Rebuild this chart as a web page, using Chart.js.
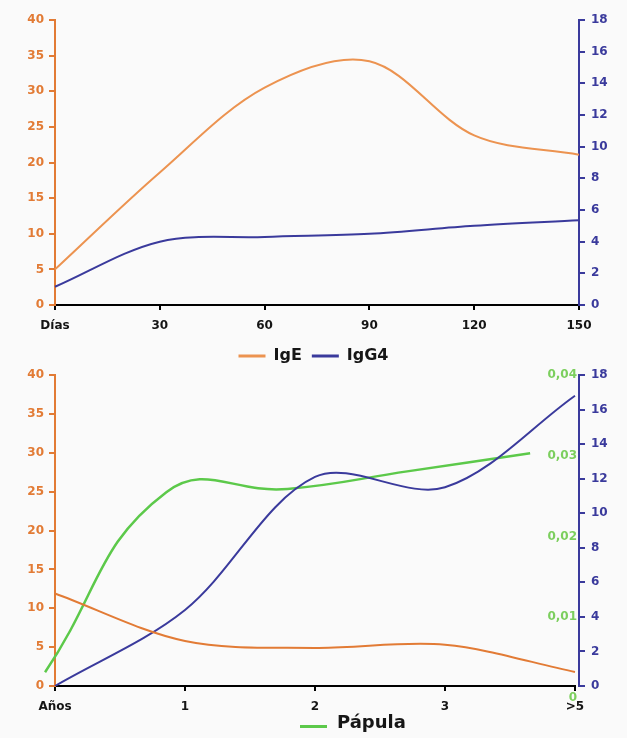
<!DOCTYPE html>
<html>
<head>
<meta charset="utf-8">
<title>IgE / IgG4 / Pápula</title>
<script src="https://cdn.jsdelivr.net/npm/chart.js@4.4.0/dist/chart.umd.min.js"></script>
<style>
  body {
    margin: 0;
    width: 627px;
    height: 738px;
    position: relative;
    overflow: hidden;
    background: #fafafa;
    font-family: 'DejaVu Sans', sans-serif;
  }
  #topChart { position: absolute; left: 0; top: 0; }
  #bottomChart { position: absolute; left: 0; top: 360px; }
  .legend-papula {
    position: absolute;
    left: 300px;
    top: 709px;
    height: 24px;
    display: flex;
    align-items: center;
    font: bold 18px 'DejaVu Sans', sans-serif;
    color: #161616;
  }
  .legend-papula .line {
    display: inline-block;
    width: 27px;
    height: 3px;
    margin-right: 10px;
    position: relative;
    top: 5px;
    background: #5cc94a;
  }
</style>
</head>
<body>
<canvas id="topChart" width="627" height="374"></canvas>
<canvas id="bottomChart" width="627" height="378"></canvas>
<div class="legend-papula"><span class="line"></span>Pápula</div>

<script>
// Top chart: days
const diasLabels = ['Días', '30', '60', '90', '120', '150'];
const igeDias = [5, 18.6, 30.5, 34.2, 23.8, 21.1];
const igg4Dias = [1.15, 4.0, 4.3, 4.5, 5.0, 5.35];

// Bottom chart: years
const anosLabels = ['Años', '1', '2', '3', '>5'];
const igeAnos = [11.9, 5.8, 4.9, 5.3, 1.8];
const igg4Anos = [0, 4.4, 12.1, 11.5, 16.8];
const papulaIdx = [0, 1, 2, 3, 4];
const papula = [0.0032, 0.0255, 0.0259, 0.0281, 0.0303];

// Tick values
const greenTicks = [0, 0.01, 0.02, 0.03, 0.04];

const ORANGE = '#e27b35';
const ORANGE_LINE = '#ec9350';
const BLUE = '#3a3a9c';
const GREEN = '#5cc94a';
const GREEN_TXT = '#7ccf5e';

Chart.defaults.font.family = "'DejaVu Sans', sans-serif";
Chart.defaults.font.weight = 'bold';
Chart.defaults.font.size = 12;

function xAxis(labels, height) {
  return {
    type: 'category',
    labels: labels,
    offset: false,
    grid: { drawOnChartArea: false, color: '#000', tickLength: 5, lineWidth: 2 },
    border: { color: '#000', width: 2 },
    ticks: { color: '#151515', padding: 9, autoSkip: false, maxRotation: 0 },
    afterFit: s => { s.height = height; }
  };
}

function leftAxis() {
  return {
    type: 'linear',
    position: 'left',
    min: 0,
    max: 40,
    ticks: { stepSize: 5, color: ORANGE, padding: 5 },
    grid: { drawOnChartArea: false, color: ORANGE, tickLength: 6, lineWidth: 2 },
    border: { color: ORANGE, width: 2 },
    afterFit: s => { s.width = 55; }
  };
}

function rightAxis() {
  return {
    type: 'linear',
    position: 'right',
    weight: 10,
    min: 0,
    max: 18,
    ticks: { stepSize: 2, color: BLUE, padding: 6 },
    grid: { drawOnChartArea: false, color: BLUE, tickLength: 6, lineWidth: 2 },
    border: { color: BLUE, width: 2 },
    afterFit: s => { s.width = 48; }
  };
}

// Top chart
new Chart(document.getElementById('topChart'), {
  type: 'line',
  data: {
    labels: diasLabels,
    datasets: [
      { label: 'IgE', data: igeDias, borderColor: ORANGE_LINE, backgroundColor: ORANGE_LINE, pointBorderWidth: 3, yAxisID: 'yLeft' },
      { label: 'IgG4', data: igg4Dias, borderColor: BLUE, backgroundColor: BLUE, pointBorderWidth: 3, yAxisID: 'yRight' }
    ]
  },
  options: {
    responsive: false,
    animation: false,
    layout: { padding: { top: 20, left: 0, right: 0, bottom: 0 } },
    elements: {
      point: { radius: 0 },
      line: { borderWidth: 2, tension: 0.33 }
    },
    plugins: {
      tooltip: { enabled: false },
      legend: {
        position: 'bottom',
        labels: {
          usePointStyle: true,
          pointStyle: 'line',
          pointStyleWidth: 27,
          color: '#161616',
          padding: 10,
          font: { size: 16, weight: 'bold' }
        }
      }
    },
    scales: {
      x: xAxis(diasLabels, 33),
      yLeft: leftAxis(),
      yRight: rightAxis()
    }
  }
});

// Bottom chart
new Chart(document.getElementById('bottomChart'), {
  type: 'line',
  data: {
    labels: anosLabels,
    datasets: [
      { label: 'IgE', data: igeAnos, borderColor: ORANGE, yAxisID: 'yLeft' },
      { label: 'IgG4', data: igg4Anos, borderColor: BLUE, yAxisID: 'yRight' },
      {
        label: 'Pápula',
        data: papula.map((v, i) => ({ x: papulaIdx[i], y: v })),
        borderColor: GREEN,
        borderWidth: 2.5,
        tension: 0.45,
        clip: false,
        xAxisID: 'x2',
        yAxisID: 'yGreen'
      }
    ]
  },
  options: {
    responsive: false,
    animation: false,
    layout: { padding: { top: 15, left: 0, right: 0, bottom: 0 } },
    elements: {
      point: { radius: 0 },
      line: { borderWidth: 2, tension: 0.33 }
    },
    plugins: {
      tooltip: { enabled: false },
      legend: { display: false }
    },
    scales: {
      x: xAxis(anosLabels, 52),
      x2: { type: 'linear', display: false, min: 0.082, max: 4.37 },
      yLeft: leftAxis(),
      yGreen: {
        type: 'linear',
        position: 'right',
        weight: 0,
        min: 0.0015,
        max: 0.04,
        afterBuildTicks: s => { s.ticks = greenTicks.map(v => ({ value: v })); },
        ticks: {
          mirror: true,
          padding: 2,
          color: GREEN_TXT,
          autoSkip: false,
          callback: v => v === 0 ? '0' : v.toFixed(2).replace('.', ',')
        },
        grid: { display: false, drawTicks: false },
        border: { display: false }
      },
      yRight: rightAxis()
    }
  }
});
</script>
</body>
</html>
